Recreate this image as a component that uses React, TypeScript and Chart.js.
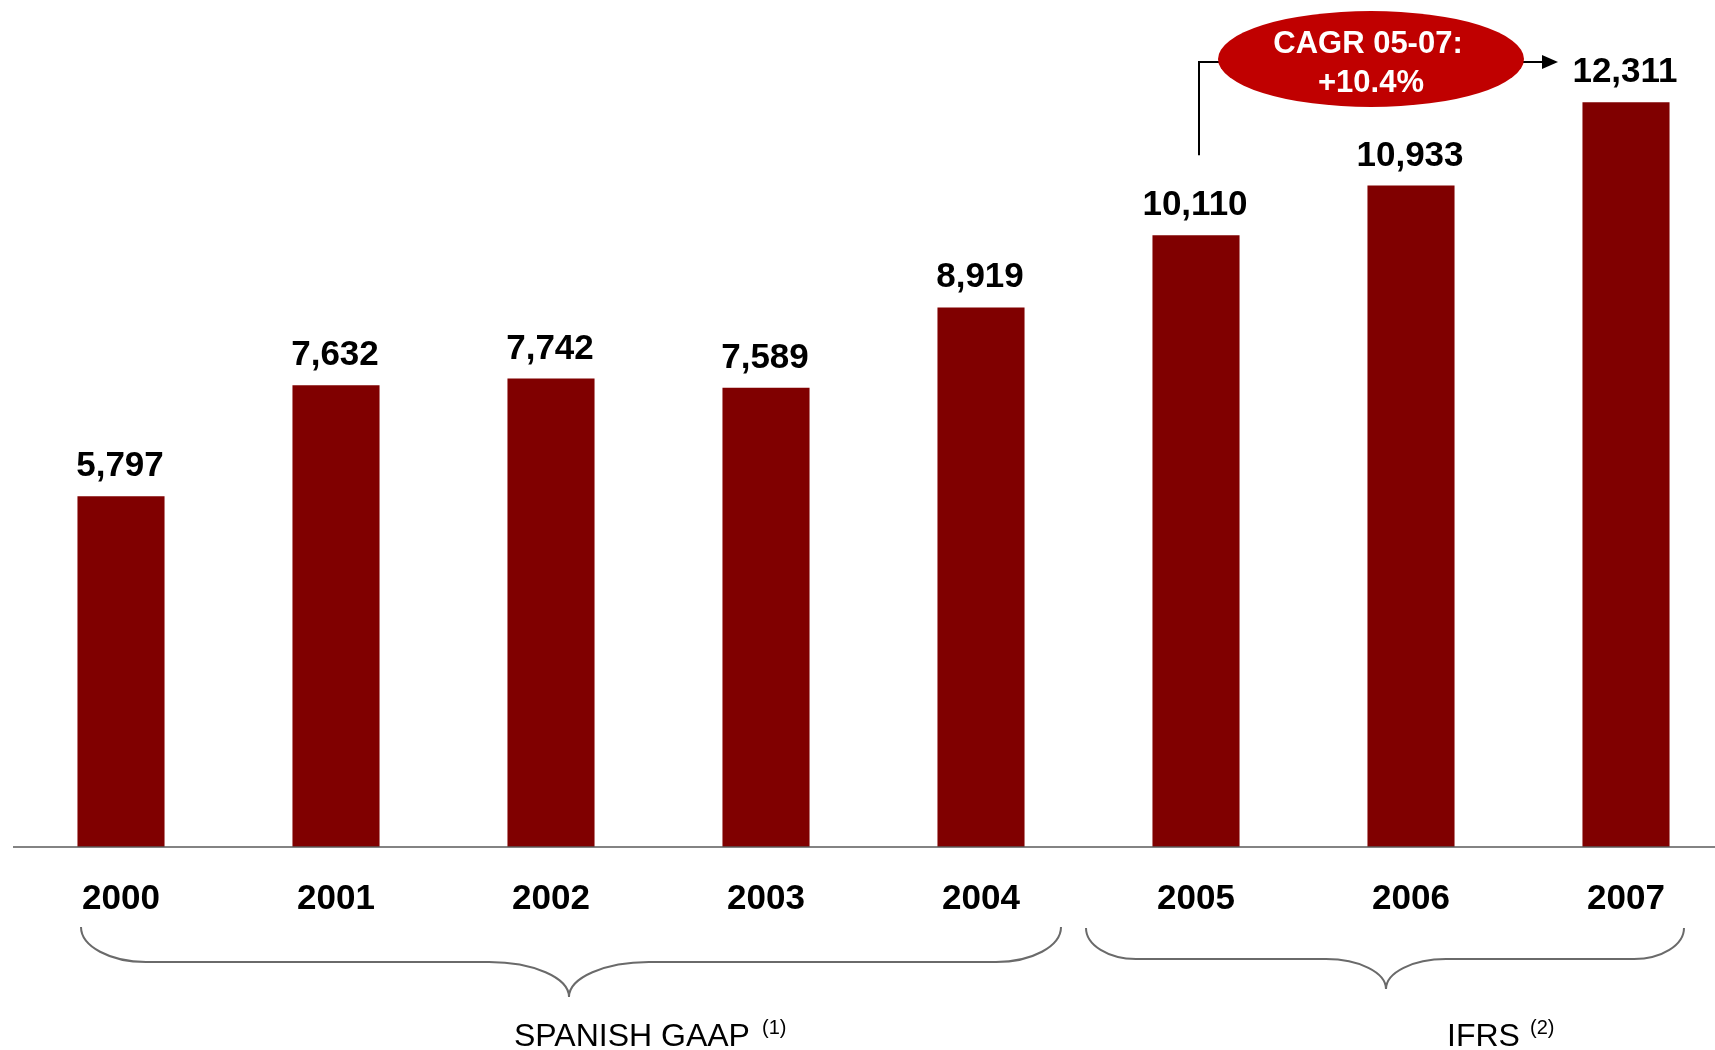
import React, { useEffect, useRef } from "react";
import { Chart, registerables } from "chart.js";

Chart.register(...registerables);

const years = ["2000", "2001", "2002", "2003", "2004", "2005", "2006", "2007"];
const revenues = [5797, 7632, 7742, 7589, 8919, 10110, 10933, 12311];
const groupLabels = ["SPANISH GAAP", "IFRS"];
const groupNotes = ["(1)", "(2)"];
const cagrLines = ["CAGR 05-07:", "+10.4%"];

const FONT = '"Liberation Sans", Arial, Helvetica, sans-serif';
const BAR_COLOR = "#800000";

function drawBrace(ctx: CanvasRenderingContext2D, x1: number, x2: number, cx: number, yTop: number, yH: number, yTip: number, a: number, ai: number) {
  const k = 0.552;
  const b = yH - yTop;
  const b2 = yTip - yH;
  ctx.beginPath();
  ctx.moveTo(x1, yTop);
  ctx.bezierCurveTo(x1, yTop + k * b, x1 + (1 - k) * a, yH, x1 + a, yH);
  ctx.lineTo(cx - ai, yH);
  ctx.bezierCurveTo(cx - ai + k * ai, yH, cx, yTip - k * b2, cx, yTip);
  ctx.bezierCurveTo(cx, yTip - k * b2, cx + ai - k * ai, yH, cx + ai, yH);
  ctx.lineTo(x2 - a, yH);
  ctx.bezierCurveTo(x2 - (1 - k) * a, yH, x2, yTop + k * b, x2, yTop);
  ctx.stroke();
}

const annotationPlugin = {
  id: "annotations",
  afterDatasetsDraw(chart: any) {
    const ctx: CanvasRenderingContext2D = chart.ctx;
    const yScale = chart.scales.y;
    const meta = chart.getDatasetMeta(0);
    const bars = meta.data;
    const y0 = yScale.getPixelForValue(0);
    ctx.save();

    // baseline
    ctx.strokeStyle = "#5a5a5a";
    ctx.lineWidth = 1.5;
    ctx.beginPath();
    ctx.moveTo(13, y0);
    ctx.lineTo(chart.width, y0);
    ctx.stroke();

    // value labels
    ctx.fillStyle = "#000";
    ctx.font = `bold 35px ${FONT}`;
    ctx.textAlign = "center";
    ctx.textBaseline = "alphabetic";
    bars.forEach((bar: any, i: number) => {
      ctx.fillText(revenues[i].toLocaleString("en-US"), bar.x - 1, bar.y - 20);
    });

    // CAGR connector
    const b5 = bars[5];
    const lx = b5.x + 3;
    const ecx = 1371, ecy = 59, erx = 153, ery = 48;
    ctx.strokeStyle = "#000";
    ctx.lineWidth = 2;
    ctx.beginPath();
    ctx.moveTo(lx, b5.y - 80);
    ctx.lineTo(lx, 62);
    ctx.lineTo(ecx - erx + 2, 62);
    ctx.stroke();
    ctx.beginPath();
    ctx.moveTo(ecx + erx - 2, 62);
    ctx.lineTo(1545, 62);
    ctx.stroke();
    ctx.fillStyle = "#000";
    ctx.beginPath();
    ctx.moveTo(1558, 62);
    ctx.lineTo(1542, 55);
    ctx.lineTo(1542, 69);
    ctx.closePath();
    ctx.fill();

    // ellipse
    ctx.fillStyle = "#C00000";
    ctx.beginPath();
    ctx.ellipse(ecx, ecy, erx, ery, 0, 0, Math.PI * 2);
    ctx.fill();
    ctx.fillStyle = "#fff";
    ctx.font = `bold 31px ${FONT}`;
    ctx.textAlign = "center";
    ctx.fillText(cagrLines[0], ecx - 3, 53);
    ctx.fillText(cagrLines[1], ecx, 92);

    // braces
    ctx.strokeStyle = "#6a6a6a";
    ctx.lineWidth = 2;
    const x0 = bars[0].x, x4 = bars[4].x, xx5 = bars[5].x, x7 = bars[7].x;
    drawBrace(ctx, x0 - 40, x4 + 80, 569, 927, 962, 997, 65, 80);
    drawBrace(ctx, xx5 - 110, x7 + 58, 1386, 928, 959, 989, 50, 60);

    // group labels
    ctx.fillStyle = "#000";
    ctx.textAlign = "left";
    ctx.font = `32px ${FONT}`;
    ctx.fillText(groupLabels[0], 514, 1046);
    ctx.fillText(groupLabels[1], 1447, 1046);
    ctx.font = `20px ${FONT}`;
    ctx.fillText(groupNotes[0], 762, 1034);
    ctx.fillText(groupNotes[1], 1530, 1034);

    ctx.restore();
  },
};

export default function App() {
  const canvasRef = useRef<HTMLCanvasElement | null>(null);

  useEffect(() => {
    if (!canvasRef.current) return;
    const chart = new Chart(canvasRef.current, {
      type: "bar",
      data: {
        labels: years,
        datasets: [
          {
            data: revenues,
            backgroundColor: BAR_COLOR,
            borderWidth: 0,
            categoryPercentage: 1,
            barPercentage: 0.405,
            clip: false as any,
          },
        ],
      },
      options: {
        responsive: false,
        animation: false,
        layout: { padding: { left: 121, right: 89, top: 0, bottom: 0 } },
        plugins: {
          legend: { display: false },
          tooltip: { enabled: false },
          title: { display: false },
        },
        scales: {
          x: {
            type: "category",
            offset: false,
            grid: { display: false, drawTicks: false },
            border: { display: false },
            ticks: {
              color: "#000",
              padding: 31,
              autoSkip: false,
              maxRotation: 0,
              font: { family: FONT, size: 35, weight: "bold" },
            },
            afterFit: (scale: any) => {
              scale.height = 203;
            },
          },
          y: {
            display: false,
            min: 0,
            max: 14000,
          },
        },
      },
      plugins: [annotationPlugin],
    });
    return () => chart.destroy();
  }, []);

  return (
    <div style={{ position: "absolute", left: 0, top: 0, width: 1715, height: 1050, background: "#fff" }}>
      <canvas ref={canvasRef} width={1715} height={1050} style={{ width: 1715, height: 1050, display: "block" }} />
    </div>
  );
}
